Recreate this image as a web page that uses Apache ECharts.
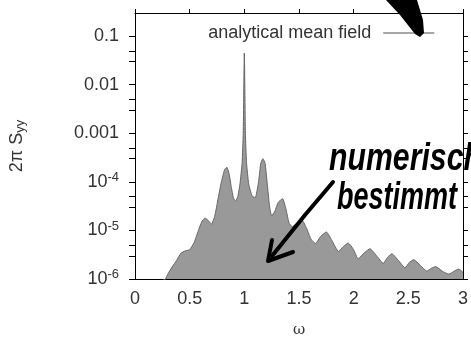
<!DOCTYPE html>
<html lang="de">
<head>
<meta charset="UTF-8">
<title>Spektrum</title>
<script src="https://cdn.jsdelivr.net/npm/echarts@6/dist/echarts.min.js"></script>
<style>
  html, body { margin: 0; padding: 0; background: #fff; }
  #main { width: 471px; height: 343px; }
</style>
</head>
<body>
<div id="main"></div>
<script>
// frequency omega
var omega = [0.26, 0.30, 0.34, 0.38, 0.42, 0.46, 0.50, 0.54, 0.58, 0.61,
             0.64, 0.67, 0.70, 0.73, 0.76, 0.79, 0.82, 0.84, 0.86, 0.88,
             0.90, 0.92, 0.94, 0.96, 0.98, 0.99, 1.00, 1.01, 1.02, 1.04,
             1.07, 1.10, 1.13, 1.15, 1.17, 1.19, 1.21, 1.23, 1.25, 1.28,
             1.31, 1.35, 1.38, 1.41, 1.44, 1.48, 1.53, 1.57, 1.61, 1.65,
             1.70, 1.75, 1.80, 1.86, 1.90, 1.95, 2.00, 2.04, 2.10, 2.15,
             2.21, 2.27, 2.31, 2.35, 2.41, 2.47, 2.51, 2.55, 2.61, 2.67,
             2.71, 2.75, 2.81, 2.87, 2.92, 2.96, 3.00];
// 2 pi S_yy (numerically determined)
var syy = [7.9e-7, 1.26e-6, 1.78e-6, 2.4e-6, 3.4e-6, 3.8e-6, 4.0e-6, 5.6e-6, 1.0e-5, 1.5e-5,
           1.8e-5, 1.6e-5, 1.35e-5, 2.0e-5, 4.5e-5, 1.0e-4, 1.8e-4, 2.0e-4, 1.5e-4, 8.0e-5,
           4.7e-5, 4.0e-5, 5.0e-5, 9.0e-5, 2.5e-4, 1.0e-3, 4.5e-2, 1.0e-3, 2.5e-4, 9.0e-5,
           5.2e-5, 4.7e-5, 1.0e-4, 2.4e-4, 3.0e-4, 2.4e-4, 9.0e-5, 3.2e-5, 2.0e-5, 2.5e-5,
           3.8e-5, 4.5e-5, 2.8e-5, 1.4e-5, 1.2e-5, 1.4e-5, 1.6e-5, 1.1e-5, 6.6e-6, 5.4e-6,
           7.6e-6, 9.3e-6, 6.3e-6, 3.7e-6, 4.5e-6, 5.5e-6, 4.0e-6, 2.6e-6, 3.5e-6, 4.2e-6,
           3.0e-6, 2.1e-6, 2.8e-6, 3.3e-6, 2.4e-6, 1.7e-6, 2.2e-6, 2.5e-6, 1.9e-6, 1.45e-6,
           1.66e-6, 1.8e-6, 1.45e-6, 1.26e-6, 1.45e-6, 1.6e-6, 1.38e-6];

var yLabels = [1e-6, 1e-5, 1e-4, 0.001, 0.01, 0.1];
var yTicks = [1e-6, 3e-6, 5e-6, 1e-5, 3e-5, 5e-5, 1e-4, 3e-4, 5e-4,
              0.001, 0.003, 0.005, 0.01, 0.03, 0.05, 0.1];
var yMin = 1e-6, yMax = 0.3;

var chart = echarts.init(document.getElementById('main'));

var pts = omega.map(function (w, i) { return [w, syy[i]]; });

function yFmt(v) {
    var e = Math.round(Math.log10(v));
    if (e >= -3) return String(v);
    return '10{sup|' + e + '}';
}

var lblStyle = { color: '#333', fontSize: 18, fontFamily: 'Liberation Sans' };
var axLine = { show: true, onZero: false, lineStyle: { color: '#000', width: 1 } };
var hand = 'italic bold 27px "Liberation Sans"';

var option = {
    animation: false,
    grid: { left: 135, right: 8, top: 13, bottom: 59 },
    legend: {
        right: 31, top: 19,
        itemWidth: 51, itemHeight: 14,
        align: 'right',
        data: ['analytical mean field'],
        textStyle: { color: '#333', fontSize: 18, fontFamily: 'Liberation Sans', padding: [0, 7, 0, 0] },
        itemStyle: { opacity: 0 },
        lineStyle: { color: '#888', width: 1.5 }
    },
    xAxis: [{
        type: 'value', min: 0, max: 3, interval: 0.5,
        name: 'ω', nameLocation: 'middle', nameGap: 44,
        nameTextStyle: { color: '#333', fontSize: 15, fontFamily: 'DejaVu Serif' },
        axisLine: axLine,
        axisTick: { show: true, inside: true, length: 5, lineStyle: { color: '#000' } },
        axisLabel: Object.assign({ margin: 11 }, lblStyle),
        splitLine: { show: false }
    }, {
        type: 'value', min: 0, max: 3, interval: 0.5, position: 'top',
        axisLine: axLine,
        axisTick: { show: true, length: 4, lineStyle: { color: '#000' } },
        axisLabel: { show: false },
        splitLine: { show: false }
    }],
    yAxis: [{
        type: 'log', logBase: 10, min: yMin, max: yMax,
        name: '2π S{sub|yy}', nameLocation: 'middle', nameGap: 108, nameRotate: 90,
        nameTextStyle: {
            color: '#333', fontSize: 18, fontFamily: 'Liberation Sans',
            rich: { sub: { fontSize: 13, verticalAlign: 'bottom', padding: [7, 0, 0, 0], color: '#333', fontFamily: 'Liberation Sans' } }
        },
        axisLine: axLine,
        axisTick: { show: true, length: 6, customValues: yTicks, lineStyle: { color: '#000' } },
        axisLabel: Object.assign({
            margin: 16, customValues: yLabels, formatter: yFmt,
            rich: { sup: { fontSize: 13, verticalAlign: 'top', padding: [0, 0, 9, 0], color: '#333', fontFamily: 'Liberation Sans' } }
        }, lblStyle),
        splitLine: { show: false }
    }, {
        // mirror axis on the right, in log10 units
        type: 'value', min: Math.log10(yMin), max: Math.log10(yMax), position: 'right',
        axisLine: axLine,
        axisTick: { show: true, length: 5, customValues: yTicks.map(Math.log10), lineStyle: { color: '#000' } },
        axisLabel: { show: false },
        splitLine: { show: false }
    }],
    series: [{
        name: 'analytical mean field',
        type: 'line',
        data: pts,
        symbol: 'none',
        smooth: 0.15,
        lineStyle: { color: '#666', width: 1 },
        itemStyle: { color: '#888' },
        areaStyle: { color: '#999', opacity: 1, origin: 'start' }
    }],
    graphic: [
        // handwritten note
        {
            type: 'text', x: 329, y: 159, scaleX: 1.12, scaleY: 1.45, z: 100,
            style: { text: 'numerisch', fill: '#000', font: hand, verticalAlign: 'middle' }
        },
        {
            type: 'text', x: 337, y: 198, scaleY: 1.45, z: 100,
            style: { text: 'bestimmt', fill: '#000', font: hand, verticalAlign: 'middle' }
        },
        {
            type: 'polyline', z: 100,
            shape: { points: [[333, 182], [305, 215], [272, 256]] },
            style: { stroke: '#000', lineWidth: 4, lineCap: 'round', lineJoin: 'round', fill: null }
        },
        {
            type: 'polyline', z: 100,
            shape: { points: [[272, 240], [268, 261], [293, 252]] },
            style: { stroke: '#000', lineWidth: 4, lineCap: 'round', lineJoin: 'round', fill: null }
        },
        {
            type: 'polygon', z: 100,
            shape: { points: [[386, 0], [417, 0], [423, 20], [424, 33], [420, 37], [415, 34], [400, 15]] },
            style: { fill: '#000' }
        }
    ]
};

chart.setOption(option);
</script>
</body>
</html>
